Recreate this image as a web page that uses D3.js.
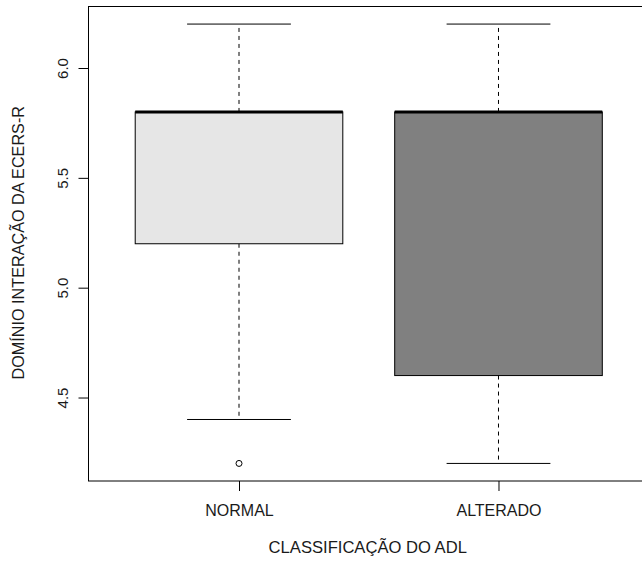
<!DOCTYPE html>
<html>
<head>
<meta charset="utf-8">
<script src="https://cdn.jsdelivr.net/npm/d3@7/dist/d3.min.js"></script>
<style>
  html, body { margin: 0; padding: 0; background: #fff; }
  svg { display: block; }
  text { font-family: "Liberation Sans", Arial, sans-serif; fill: #1a1a1a; }
</style>
</head>
<body>
<svg id="chart" width="642" height="561"></svg>
<script>
// ---- Data ----
const categories = ["NORMAL", "ALTERADO"];
const whiskerLow = [4.4, 4.2];
const q1 = [5.2, 4.6];
const medians = [5.8, 5.8];
const q3 = [5.8, 5.8];
const whiskerHigh = [6.2, 6.2];
const outliers = [[4.2], []];
const yTicks = [4.5, 5.0, 5.5, 6.0];
const xTitle = "CLASSIFICAÇÃO DO ADL";
const yTitle = "DOMÍNIO INTERAÇÃO DA ECERS-R";

// ---- Styles ----
const fills = ["#e6e6e6", "#808080"];

(function () {
const svg = d3.select("#chart");
const pLeft = 88.5, pRight = 649, pTop = 6.5, pBottom = 481;

const x = d3.scaleLinear().domain([0.42, 2.58]).range([pLeft, pRight]);
const y = d3.scaleLinear().domain([4.12, 6.28]).range([pBottom, pTop]);

const boxHalf = 0.4, capHalf = 0.2;

const data = categories.map((c, i) => ({
  c, i, pos: i + 1,
  lo: whiskerLow[i], q1: q1[i], med: medians[i], q3: q3[i], hi: whiskerHigh[i],
  out: outliers[i]
}));

const g = svg.append("g");

// whiskers (dashed)
g.selectAll(".wl").data(data).enter().append("line")
  .attr("x1", d => x(d.pos)).attr("x2", d => x(d.pos))
  .attr("y1", d => y(d.q3)).attr("y2", d => y(d.hi))
  .attr("stroke", "#000").attr("stroke-dasharray", "4,4");
g.selectAll(".wl2").data(data).enter().append("line")
  .attr("x1", d => x(d.pos)).attr("x2", d => x(d.pos))
  .attr("y1", d => y(d.q1)).attr("y2", d => y(d.lo))
  .attr("stroke", "#000").attr("stroke-dasharray", "4,4");

// caps
["hi", "lo"].forEach(k => {
  g.selectAll(".cap" + k).data(data).enter().append("line")
    .attr("x1", d => x(d.pos - capHalf)).attr("x2", d => x(d.pos + capHalf))
    .attr("y1", d => y(d[k])).attr("y2", d => y(d[k]))
    .attr("stroke", "#000");
});

// boxes
g.selectAll(".box").data(data).enter().append("rect")
  .attr("x", d => x(d.pos - boxHalf))
  .attr("width", d => x(d.pos + boxHalf) - x(d.pos - boxHalf))
  .attr("y", d => y(d.q3))
  .attr("height", d => y(d.q1) - y(d.q3))
  .attr("fill", (d, i) => fills[i])
  .attr("stroke", "#000");

// medians
g.selectAll(".med").data(data).enter().append("line")
  .attr("x1", d => x(d.pos - boxHalf)).attr("x2", d => x(d.pos + boxHalf))
  .attr("y1", d => y(d.med)).attr("y2", d => y(d.med))
  .attr("stroke", "#000").attr("stroke-width", 3);

// outliers
data.forEach(d => {
  d.out.forEach(v => {
    g.append("circle")
      .attr("cx", x(d.pos)).attr("cy", y(v)).attr("r", 3)
      .attr("fill", "none").attr("stroke", "#000").attr("stroke-width", 1);
  });
});

// frame
svg.append("rect")
  .attr("x", pLeft).attr("y", pTop)
  .attr("width", pRight - pLeft).attr("height", pBottom - pTop)
  .attr("fill", "none").attr("stroke", "#000");

// y axis
const yAxis = d3.axisLeft(y).tickValues(yTicks).tickFormat(d3.format(".1f")).tickSizeOuter(0).tickSize(10).tickPadding(0);
const ya = svg.append("g").attr("transform", `translate(${pLeft},0)`).call(yAxis);
ya.select(".domain").remove();
ya.selectAll(".tick line").attr("stroke", "#000");
ya.selectAll(".tick text").remove();
ya.selectAll(".tick").append("text")
  .attr("transform", "translate(-26,0) rotate(-90)")
  .attr("text-anchor", "middle")
  .attr("dy", "0.35em")
  .style("font-size", "15px")
  .style("fill", "#1a1a1a")
  .text(d => d3.format(".1f")(d));

// x axis
const xAxis = d3.axisBottom(x).tickValues(data.map(d => d.pos)).tickFormat((d, i) => categories[i]).tickSize(10).tickSizeOuter(0).tickPadding(14);
const xa = svg.append("g").attr("transform", `translate(0,${pBottom})`).call(xAxis);
xa.select(".domain").remove();
xa.selectAll(".tick line").attr("stroke", "#000");
xa.selectAll(".tick text").style("font-size", "16px").style("font-family", "'Liberation Sans', Arial, sans-serif").style("fill", "#1a1a1a");

// titles
svg.append("text")
  .attr("x", (pLeft + pRight) / 2 - 1).attr("y", 553)
  .attr("text-anchor", "middle").style("font-size", "16.6px")
  .text(xTitle);
svg.append("text")
  .attr("transform", `translate(24,${(pTop + pBottom) / 2 - 1}) rotate(-90)`)
  .attr("text-anchor", "middle").style("font-size", "16.2px")
  .text(yTitle);
})();
</script>
</body>
</html>
